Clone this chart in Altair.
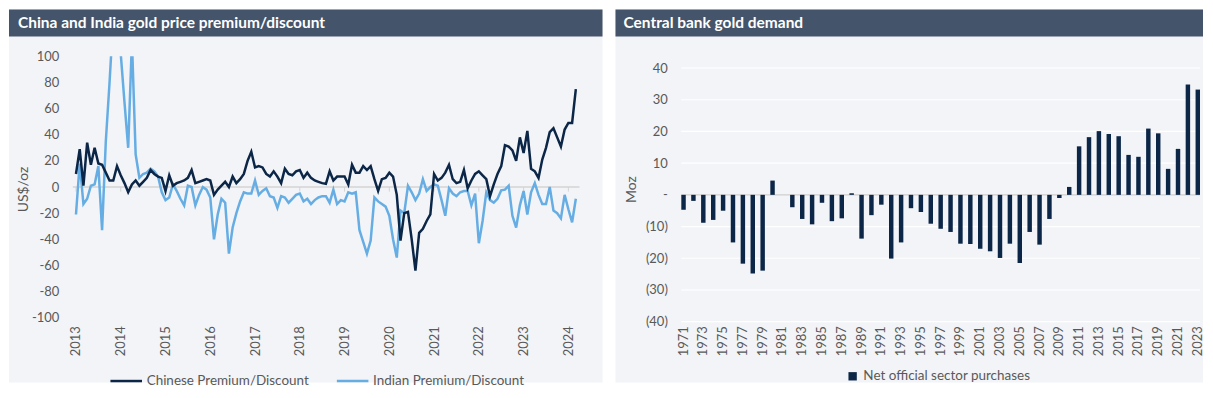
import altair as alt
import pandas as pd

# ---------------- data ----------------
start_year = 2013
chinese = [10, 29, 1, 34, 17, 30, 18, 17, 11, 5, 5, 16,
           9, 3, -4, 2, 5, 1, 4, 7, 13, 10, 8, 7,
           -3, 9, 1, 3, 4, 5, 7, 13, 3, 4, 5, 6,
           5, -6, -2, 1, 4, 0, 8, 3, 6, 10, 20, 27,
           15, 16, 15, 10, 8, 12, 8, 3, 14, 10, 9, 12,
           13, 7, 11, 7, 5, 4, 3, 2.5, 12, 5, 8, 8,
           8, 2, 17, 11, 11, 16, 13, 16, 6, -3, 6, 7,
           11, 8, -6, -41, -20, -19, -40, -64, -35, -32, -26, -21,
           10, 5, 7, 11, 17, 6, 3, 4, 13, -1, 5, 10,
           12, 9, 6, -7, 2, 10, 16, 32, 31, 28, 20, 38,
           26, 43, 14, 12, 7, 21, 30, 42, 45, 38, 31, 44,
           49, 49, 75]
indian = [-21, 18, -13, -9, 1, 2, 16, -33, 35, 80, 130, 130,
          102, 65, 30, 112, 25, 7, 10, 11, 14, 12, 8, -4,
          -10, -8, 2, -3, -9, -14, 1, 0, -14, -6, 0, -2,
          -8, -40, -21, -9, -12, -51, -31, -20, -11, -4, -5, -5,
          5, -6, -3, -1, -7, -8, -16, -7, -8, -12, -9, -6,
          -5, -11, -9, -13, -10, -8, -7, -7, -12, -2, -13, -10,
          -11, -4, -5, -4, -33, -42, -51, -41, -8, -11, -13, -15,
          -22, -40, -54, -18, -20, 1, -4, -10, -5, 6, -3, 0,
          2, 1, -10, -22, -1, -5, -7, -4, -3, -3, -14, -5,
          -43, -26, -4, -10, -12, -9, -2.5, -2, 1, -22, -31, -14,
          -3, -21, -4, 3, -6, -13, -13, 0, -18, -20, -24, -6,
          -17, -27, -9]
premium_series = ["Chinese Premium/Discount", "Indian Premium/Discount"]
premium_ticks = list(range(2013, 2025))
premium_y_ticks = list(range(-100, 101, 20))

cb_years = list(range(1971, 2024))
cb_values = [-4.7, -1.9, -8.8, -7.9, -5.0, -15.0, -21.7, -24.8, -23.9, 4.5,
             0.0, -3.9, -7.6, -9.3, -2.5, -8.3, -7.4, 0.5, -13.8, -6.4,
             -3.1, -20.1, -15.0, -4.2, -5.4, -9.1, -10.7, -11.7, -15.4, -15.5,
             -17.0, -17.8, -19.9, -15.4, -21.5, -11.7, -15.7, -7.6, -1.0, 2.5,
             15.3, 18.2, 20.1, 19.2, 18.5, 12.6, 12.0, 20.9, 19.4, 8.2,
             14.5, 34.8, 33.2]
cb_series = "Net official sector purchases"
cb_y_ticks = list(range(-40, 41, 10))
cb_label_years = [y for y in cb_years if y % 2 == 1]

# ---------------- style ----------------
FONT = "Lato"
BG = "#f2f4f7"
HEAD = "#44546a"
NAVY = "#0b2647"
LIGHT = "#66ade3"
TXT = "#595959"

one = pd.DataFrame({"k": [0]})

n = len(chinese)
t = [start_year + i / 12 for i in range(n)]
df_cn = pd.DataFrame({"t": t, "v": chinese, "s": premium_series[0]})
df_in = pd.DataFrame({"t": t, "v": indian, "s": premium_series[1]})
df_ticks = pd.DataFrame({"t": premium_ticks})

H = 266          # common plot height (plot tops aligned by the concat layout)
TOP, BOT = -47, 327

# ---------------- left panel ----------------
LW = 508
xl = alt.X("t:Q", title=None,
           scale=alt.Scale(domain=[2012.93, 2024.25], nice=False, zero=False),
           axis=alt.Axis(values=premium_ticks, format="d", labelAngle=270, tickCount=50,
                         domain=False, ticks=False, grid=False, labelPadding=4,
                         labelFontSize=13, labelColor=TXT, labelOverlap=False, zindex=1))
yl = alt.Y("v:Q", title="US$/oz",
           scale=alt.Scale(domain=[-103.05, 100], nice=False, zero=False),
           axis=alt.Axis(values=premium_y_ticks, tickCount=50, domain=False, ticks=False,
                         labelExpr="datum.value < 0 ? '-' + format(-datum.value, 'd') : format(datum.value, 'd')",
                         grid=False, labelPadding=14, labelFontSize=13, labelColor=TXT,
                         labelOverlap=False,
                         titleFontSize=14, titleColor=TXT, titleFontWeight="normal",
                         titlePadding=1, zindex=1))
color_l = alt.Color("s:N", scale=alt.Scale(domain=premium_series, range=[NAVY, LIGHT]),
                    legend=alt.Legend(title=None, orient="none", direction="horizontal",
                                      legendX=36, legendY=308, symbolType="stroke",
                                      symbolSize=1000, symbolStrokeWidth=2.5,
                                      labelFontSize=13.5, labelColor=TXT, labelOffset=3,
                                      labelLimit=400, columnPadding=22, zindex=1))

bg_l = alt.Chart(one).mark_rect(color=BG).encode(
    x=alt.value(-64), x2=alt.value(531), y=alt.value(TOP), y2=alt.value(BOT))
head_l = alt.Chart(one).mark_rect(color=HEAD).encode(
    x=alt.value(-64), x2=alt.value(531), y=alt.value(TOP), y2=alt.value(TOP + 27))
title_l = alt.Chart(one).mark_text(
    text="China and India gold price premium/discount", color="white",
    font=FONT, fontSize=15.5, fontWeight="bold", align="left", baseline="middle").encode(
    x=alt.value(-55), y=alt.value(TOP + 13.5))
zero_l = alt.Chart(one).mark_rule(color="#d4d4d4", strokeWidth=1.5).encode(y=alt.datum(0))
ticks_l = alt.Chart(df_ticks).mark_rule(color="#d4d4d4", strokeWidth=1).encode(
    x=xl, y=alt.datum(0), y2=alt.datum(-3.5))
line_in = alt.Chart(df_in).mark_line(strokeWidth=2.5, clip=True).encode(x=xl, y=yl, color=color_l)
line_cn = alt.Chart(df_cn).mark_line(strokeWidth=2.5, clip=True).encode(x=xl, y=yl, color=color_l)

left = alt.layer(bg_l, head_l, title_l, zero_l, ticks_l, line_in, line_cn).properties(
    width=LW, height=H)

# ---------------- right panel ----------------
RW = 520
df_cb = pd.DataFrame({"year": cb_years, "val": cb_values, "s": cb_series})
df_grid = pd.DataFrame({"val": [v for v in cb_y_ticks if v != 0]})

yr_axis = alt.Axis(values=cb_y_ticks, tickCount=50, domain=False, ticks=False, grid=False,
                   labelExpr="datum.value == 0 ? '-' : (datum.value < 0 ? '(' + format(-datum.value, 'd') + ')' : format(datum.value, 'd'))",
                   labelPadding=14, labelFontSize=13, labelColor=TXT, labelOverlap=False,
                   titleFontSize=14, titleColor=TXT, titleFontWeight="normal",
                   titlePadding=7, zindex=1)
yr_scale = alt.Scale(domain=[-40, 43.68], nice=False, zero=False)

bg_r = alt.Chart(one).mark_rect(color=BG).encode(
    x=alt.value(-66), x2=alt.value(523), y=alt.value(TOP), y2=alt.value(BOT))
head_r = alt.Chart(one).mark_rect(color=HEAD).encode(
    x=alt.value(-66), x2=alt.value(523), y=alt.value(TOP), y2=alt.value(TOP + 27))
title_r = alt.Chart(one).mark_text(
    text="Central bank gold demand", color="white",
    font=FONT, fontSize=15.5, fontWeight="bold", align="left", baseline="middle").encode(
    x=alt.value(-58), y=alt.value(TOP + 13.5))
grid_r = alt.Chart(df_grid).mark_rule(color="white", strokeWidth=1.2).encode(
    y=alt.Y("val:Q", title="Moz", scale=yr_scale, axis=yr_axis))
zero_r = alt.Chart(one).mark_rule(color="#cfcfcf", strokeWidth=1.2).encode(y=alt.datum(0))
bars = alt.Chart(df_cb).mark_bar().encode(
    x=alt.X("year:O", title=None,
            scale=alt.Scale(paddingInner=0.55, paddingOuter=0.0),
            axis=alt.Axis(values=cb_label_years, labelAngle=270, domain=False, ticks=False,
                          grid=False, labelPadding=4, labelFontSize=13, labelColor=TXT,
                          labelOverlap=False, zindex=1)),
    y=alt.Y("val:Q", title="Moz", scale=yr_scale, axis=yr_axis),
    color=alt.Color("s:N", scale=alt.Scale(domain=[cb_series], range=[NAVY]),
                    legend=alt.Legend(title=None, orient="none", legendX=165, legendY=314,
                                      symbolType="square", symbolSize=70,
                                      labelFontSize=13.5, labelColor=TXT, labelOffset=4,
                                      labelLimit=400, zindex=1)))

right = alt.layer(bg_r, head_r, title_r, grid_r, zero_r, bars).properties(width=RW, height=H)

chart = alt.hconcat(left, right, spacing=11).resolve_scale(
    color="independent"
).resolve_legend(color="independent").properties(
    padding=0, background="white"
).configure_view(stroke=None).configure_axis(
    labelOverlap=False, labelSeparation=0
).configure(font=FONT)

chart.save("out.html", embed_options={"renderer": "svg", "actions": False})
